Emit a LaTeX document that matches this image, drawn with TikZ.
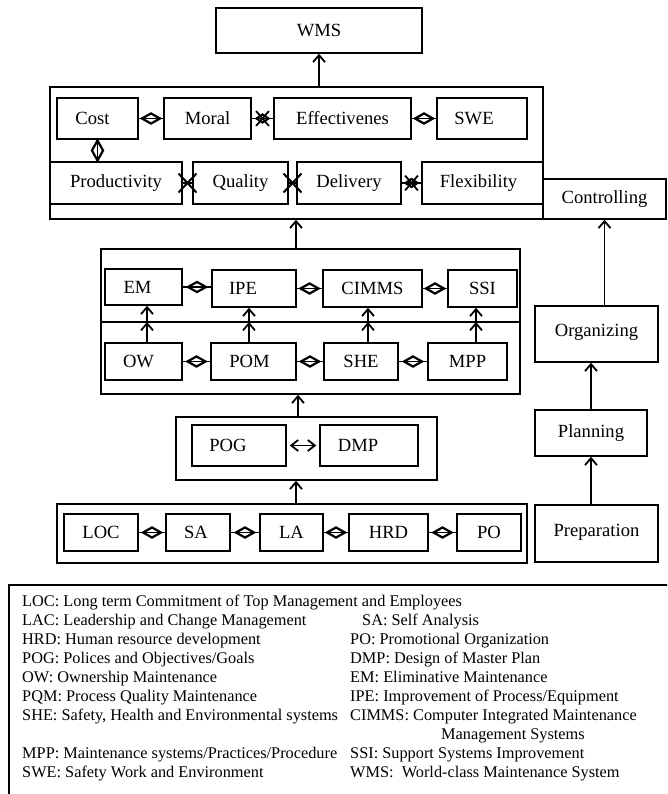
\documentclass[tikz,border=0pt]{standalone}
\usepackage{fontspec}
\setmainfont{Liberation Serif}
\usetikzlibrary{arrows.meta,shapes.geometric,shapes.misc}
\newcommand{\shiftl}[2]{\kern-#1pt\relax #2\kern#1pt\relax}
\begin{document}
\begin{tikzpicture}[x=1pt,y=-1pt,
  box/.style={draw, line width=1.5pt, inner sep=0pt, font=\fontsize{18.6}{20}\selectfont},
  frame/.style={draw, line width=1.5pt, inner sep=0pt},
  sz/.style 2 args={minimum width=#1pt, minimum height=#2pt},
  arr/.style={line width=1.8pt, -{Straight Barb[length=7pt,width=12pt,line width=1.8pt]}},
  conn/.style={line width=1.2pt},
  dmd/.style={diamond, draw, line width=2.2pt, inner sep=0pt, minimum width=19pt, minimum height=11pt},
  vdmd/.style={diamond, draw, line width=2.2pt, inner sep=0pt, minimum width=12pt, minimum height=21pt},
  sdmd/.style={diamond, draw, line width=2pt, inner sep=0pt, minimum width=13pt, minimum height=9pt},
  xx/.style={cross out, draw, line width=2pt, inner sep=0pt, minimum width=16pt, minimum height=17pt},
  sxx/.style={cross out, draw, line width=1.8pt, inner sep=0pt, minimum width=11pt, minimum height=13pt},
  lg/.style={anchor=base west, inner sep=0pt, font=\fontsize{16.3}{19}\selectfont}]
\useasboundingbox (0,0) rectangle (667,794);
\clip (0,0) rectangle (667,794);

% ---------- top frame ----------
\node[box, sz={206}{45}] (wms) at (319,30.5) {WMS};
\node[frame, sz={493}{132}] (big) at (296.5,153) {};
\node[box, sz={81}{41}] (cost) at (97.5,118.5) {\shiftl{5}{Cost}};
\node[box, sz={87}{41}] (moral) at (207.5,118.5) {Moral};
\node[box, sz={137}{41}] (eff) at (342.5,118.5) {Effectivenes};
\node[box, sz={90}{41}] (swe) at (482,118.5) {\shiftl{8}{SWE}};
\node[box, sz={132}{42}] (prod) at (116,183) {Productivity};
\node[box, sz={95}{42}] (qual) at (240.5,183) {Quality};
\node[box, sz={104}{42}] (deliv) at (349,183) {Delivery};
\node[box, sz={121}{42}] (flex) at (482.5,183) {\shiftl{4}{Flexibility}};
\node[box, sz={123}{40}] (ctrl) at (604.5,199) {Controlling};

\draw[arr] (wms.south |- big.north) -- (wms.south);
\draw[conn] (cost.east) -- (moral.west) node[midway, dmd] {};
\draw[conn] (moral.east) -- (eff.west) node[midway, sdmd] {} node[midway, sxx] {};
\draw[conn] (eff.east) -- (swe.west) node[midway, dmd] {};
\draw[conn] (cost.south) -- (cost.south |- prod.north) node[midway, vdmd] {};
\draw[conn] (prod.east) -- (qual.west) node[midway, xx] {};
\draw[conn] (qual.east) -- (deliv.west) node[midway, xx] {};
\draw[conn] (deliv.east) -- (flex.west) node[midway, sdmd] {} node[midway, sxx] {};

% ---------- middle frame ----------
\node[frame, sz={419}{145}] (mid) at (310.5,321.5) {};
\coordinate (dl) at (101,322);
\coordinate (dr) at (520,322);
\draw[line width=1.5pt] (dl) -- (dr);
\node[box, sz={77}{36}] (em) at (143.5,287) {\shiftl{6}{EM}};
\node[box, sz={84}{37}] (ipe) at (254,288.5) {\shiftl{11}{IPE}};
\node[box, sz={99}{37}] (cimms) at (372.5,288.5) {CIMMS};
\node[box, sz={69}{37}] (ssi) at (482.5,288.5) {SSI};
\node[box, sz={77}{37}] (ow) at (143.5,361.5) {\shiftl{5}{OW}};
\node[box, sz={85}{37}] (pom) at (253.5,361.5) {\shiftl{4}{POM}};
\node[box, sz={74}{37}] (she) at (361,361.5) {SHE};
\node[box, sz={79}{37}] (mpp) at (467.5,361.5) {MPP};

\draw[conn] (em.east) -- (em.east -| ipe.west) node[midway, dmd] {};
\draw[conn] (ipe.east) -- (cimms.west) node[midway, dmd] {};
\draw[conn] (cimms.east) -- (ssi.west) node[midway, dmd] {};
\draw[conn] (ow.east) -- (pom.west) node[midway, dmd] {};
\draw[conn] (pom.east) -- (she.west) node[midway, dmd] {};
\draw[conn] (she.east) -- (mpp.west) node[midway, dmd] {};

\coordinate (k1) at (147,322);
\coordinate (k2) at (249,322);
\coordinate (k3) at (368,322);
\coordinate (k4) at (476,322);
\draw[arr] (ow.north -| k1) -- (k1);
\draw[arr] (k1) -- (em.south -| k1);
\draw[arr] (pom.north -| k2) -- (k2);
\draw[arr] (k2) -- (ipe.south -| k2);
\draw[arr] (she.north -| k3) -- (k3);
\draw[arr] (k3) -- (cimms.south -| k3);
\draw[arr] (mpp.north -| k4) -- (k4);
\draw[arr] (k4) -- (ssi.south -| k4);

\coordinate (m1) at (296,219);
\draw[arr] (mid.north -| m1) -- (big.south -| m1);

% ---------- POG frame ----------
\node[frame, sz={261}{63}] (pogbox) at (306.5,448.5) {};
\node[box, sz={94}{41}] (pog) at (239,445.5) {\shiftl{11}{POG}};
\node[box, sz={98}{41}] (dmp) at (369,445.5) {\shiftl{11}{DMP}};
\draw[line width=1.8pt, {Straight Barb[length=7pt,width=11pt,line width=1.8pt]}-{Straight Barb[length=7pt,width=11pt,line width=1.8pt]}] ([xshift=3pt]pog.east) -- ([xshift=-3pt]dmp.west);
\coordinate (m2) at (298,394);
\draw[arr] (pogbox.north -| m2) -- (mid.south -| m2);

% ---------- bottom frame ----------
\node[frame, sz={470}{59}] (botbox) at (292,533.5) {};
\node[box, sz={74}{37}] (loc) at (101,532.5) {LOC};
\node[box, sz={64}{37}] (sa) at (198,532.5) {\shiftl{2}{SA}};
\node[box, sz={63}{37}] (la) at (291.5,532.5) {LA};
\node[box, sz={79}{37}] (hrd) at (388.5,532.5) {HRD};
\node[box, sz={64}{37}] (po) at (489,532.5) {PO};
\draw[conn] (loc.east) -- (sa.west) node[midway, dmd] {};
\draw[conn] (sa.east) -- (la.west) node[midway, dmd] {};
\draw[conn] (la.east) -- (hrd.west) node[midway, dmd] {};
\draw[conn] (hrd.east) -- (po.west) node[midway, dmd] {};
\coordinate (m3) at (296,480);
\draw[arr] (botbox.north -| m3) -- (pogbox.south -| m3);

% ---------- right column ----------
\node[box, sz={123}{56}] (org) at (596.5,334) {\raisebox{7pt}{Organizing}};
\node[box, sz={112}{46}] (plan) at (591,433) {Planning};
\node[box, sz={123}{57}] (prep) at (596.5,533.5) {\raisebox{6pt}{Preparation}};
\draw[arr] (ctrl.south |- org.north) -- (ctrl.south);
\draw[arr] (plan.north) -- (plan.north |- org.south);
\draw[arr] (plan.south |- prep.north) -- (plan.south);

% ---------- legend ----------
\node[draw, line width=1.6pt, anchor=north west, inner sep=0pt, minimum width=720pt, minimum height=260pt] (legend) at (8,584) {};
\node[lg] (l1) at (22,606.5) {LOC: Long term Commitment of Top Management and Employees};
\node[lg] (l2) at (22,625.5) {LAC: Leadership and Change Management};
\node[lg] (l3) at (22,644.5) {HRD: Human resource development};
\node[lg] (l4) at (22,663.5) {POG: Polices and Objectives/Goals};
\node[lg] (l5) at (22,682.5) {OW: Ownership Maintenance};
\node[lg] (l6) at (22,701.5) {PQM: Process Quality Maintenance};
\node[lg] (l7) at (22,720.5) {SHE: Safety, Health and Environmental systems};
\node[lg] (l8) at (22,758.5) {MPP: Maintenance systems/Practices/Procedure};
\node[lg] (l9) at (22,777.5) {SWE: Safety Work and Environment};
\node[lg] (r2) at (362,625.5) {SA: Self Analysis};
\node[lg] (r3) at (350,644.5) {PO: Promotional Organization};
\node[lg] (r4) at (350,663.5) {DMP: Design of Master Plan};
\node[lg] (r5) at (350,682.5) {EM: Eliminative Maintenance};
\node[lg] (r6) at (350,701.5) {IPE: Improvement of Process/Equipment};
\node[lg] (r7) at (350,720.5) {CIMMS: Computer Integrated Maintenance};
\node[lg] (r7b) at (441,739.5) {Management Systems};
\node[lg] (r8) at (350,758.5) {SSI: Support Systems Improvement};
\node[lg] (r9) at (350,777.5) {WMS:\ \ World-class Maintenance System};
\end{tikzpicture}
\end{document}
